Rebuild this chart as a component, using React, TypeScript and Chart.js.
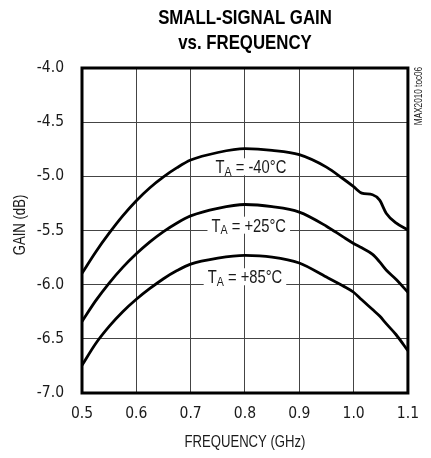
import { useEffect, useRef } from "react";
import { Chart, registerables } from "chart.js";

Chart.register(...registerables);

// ---- data ----
const freqGHz = [0.5, 0.525, 0.55, 0.575, 0.6, 0.625, 0.65, 0.675, 0.7, 0.75, 0.8, 0.85, 0.9, 0.95, 0.98, 1.0, 1.015, 1.035, 1.048, 1.06, 1.078, 1.1];
const gainM40 = [-5.895, -5.7, -5.525, -5.365, -5.225, -5.105, -5.005, -4.92, -4.85, -4.78, -4.745, -4.76, -4.8, -4.915, -5.02, -5.095, -5.155, -5.17, -5.22, -5.34, -5.43, -5.495];
const gainP25 = [-6.34, -6.15, -5.985, -5.84, -5.715, -5.605, -5.51, -5.43, -5.365, -5.295, -5.26, -5.28, -5.33, -5.46, -5.557, -5.62, -5.66, -5.72, -5.79, -5.865, -5.95, -6.07];
const gainP85 = [-6.745, -6.545, -6.385, -6.25, -6.135, -6.035, -5.945, -5.87, -5.81, -5.755, -5.73, -5.745, -5.8, -5.93, -6.01, -6.07, -6.14, -6.23, -6.29, -6.36, -6.46, -6.61];

const xTickValues = [0.5, 0.6, 0.7, 0.8, 0.9, 1.0, 1.1];
const xTickLabels = ["0.5", "0.6", "0.7", "0.8", "0.9", "1.0", "1.1"];
const yTickValues = [-7.0, -6.5, -6.0, -5.5, -5.0, -4.5, -4.0];
const yTickLabels = ["-7.0", "-6.5", "-6.0", "-5.5", "-5.0", "-4.5", "-4.0"];

const seriesTemps = ["-40°C", "+25°C", "+85°C"];
// label anchors in data units (centre frequency, baseline gain)
const labelFreq = [0.811, 0.807, 0.8];
const labelGain = [-4.972, -5.511, -5.987];

const titleLines = ["SMALL-SIGNAL GAIN", "vs. FREQUENCY"];
const xTitle = "FREQUENCY (GHz)";
const yTitle = "GAIN (dB)";
const sideNote = "MAX2010 toc06";

const NARROW = "'Liberation Sans', Arial, sans-serif";
const TICK_FONT = "'DejaVu Sans Condensed', 'Liberation Sans Narrow', 'Liberation Sans', sans-serif";
const SX = 0.82;
const TEXT = "#1a1a1a";

function narrowText(
  ctx: CanvasRenderingContext2D,
  text: string,
  x: number,
  y: number,
  font: string,
  align: CanvasTextAlign = "center",
  baseline: CanvasTextBaseline = "alphabetic",
  rot = 0
) {
  ctx.save();
  ctx.translate(x, y);
  if (rot) ctx.rotate(rot);
  ctx.scale(SX, 1);
  ctx.font = font;
  ctx.textAlign = align;
  ctx.textBaseline = baseline;
  ctx.fillText(text, 0, 0);
  ctx.restore();
}

export default function App() {
  const ref = useRef<HTMLCanvasElement | null>(null);

  useEffect(() => {
    document.body.style.margin = "0";
    const canvas = ref.current;
    if (!canvas) return;

    const overlay = {
      id: "overlay",
      afterDatasetsDraw(chart: any) {
        const ctx = chart.ctx as CanvasRenderingContext2D;
        const xs = chart.scales.x;
        const ys = chart.scales.y;
        ctx.save();
        seriesTemps.forEach((t, i) => {
          const cx = xs.getPixelForValue(labelFreq[i]);
          const by = ys.getPixelForValue(labelGain[i]);
          const mainFont = `18px ${NARROW}`;
          const subFont = `13px ${NARROW}`;
          const rest = " = " + t;
          ctx.font = mainFont;
          const wT = ctx.measureText("T").width * SX;
          const wR = ctx.measureText(rest).width * SX;
          ctx.font = subFont;
          const wA = ctx.measureText("A").width * SX;
          const total = wT + wA + wR;
          const x0 = cx - total / 2;
          ctx.fillStyle = "#fff";
          ctx.fillRect(x0 - 4, by - 15, total + 8, 17);
          ctx.fillStyle = TEXT;
          narrowText(ctx, "T", x0, by, mainFont, "left");
          narrowText(ctx, "A", x0 + wT, by + 2.7, subFont, "left");
          narrowText(ctx, rest, x0 + wT + wA, by, mainFont, "left");
        });
        ctx.restore();
      },
      afterDraw(chart: any) {
        const ctx = chart.ctx as CanvasRenderingContext2D;
        const a = chart.chartArea;
        ctx.save();
        ctx.strokeStyle = "#000";
        ctx.lineWidth = 3;
        ctx.strokeRect(a.left, a.top, a.right - a.left, a.bottom - a.top);
        ctx.fillStyle = "#000";
        narrowText(ctx, titleLines[0], 245, 23.5, `bold 20.5px ${NARROW}`);
        narrowText(ctx, titleLines[1], 245, 49, `bold 20.5px ${NARROW}`);
        ctx.fillStyle = TEXT;
        narrowText(ctx, xTitle, (a.left + a.right) / 2, 447, `16px ${NARROW}`);
        narrowText(ctx, yTitle, 21, 225, `16px ${NARROW}`, "center", "middle", -Math.PI / 2);
        narrowText(ctx, sideNote, 419, 96, `10px ${NARROW}`, "center", "middle", -Math.PI / 2);
        ctx.restore();
      },
    };

    const mk = (vals: number[]) => ({
      data: freqGHz.map((f, i) => ({ x: f, y: vals[i] })),
      borderColor: "#000",
      borderWidth: 2.8,
      pointRadius: 0,
      fill: false,
      cubicInterpolationMode: "monotone" as const,
    });

    const chart = new Chart(canvas, {
      type: "line",
      data: { datasets: [mk(gainM40), mk(gainP25), mk(gainP85)] },
      options: {
        responsive: false,
        animation: false,
        layout: { padding: { top: 68, right: 22.5, left: 0, bottom: 0 } },
        plugins: {
          legend: { display: false },
          tooltip: { enabled: false },
          title: { display: false },
        },
        scales: {
          x: {
            type: "linear",
            min: 0.5,
            max: 1.1,
            afterBuildTicks: (s: any) => {
              s.ticks = xTickValues.map((v) => ({ value: v }));
            },
            afterFit: (s: any) => {
              s.height = 65;
            },
            grid: { color: "#444", lineWidth: 1, drawTicks: false },
            border: { display: false },
            ticks: {
              padding: 12,
              color: TEXT,
              font: { family: TICK_FONT, size: 15.5 },
              maxRotation: 0,
              autoSkip: false,
              callback: (_v: any, i: number) => xTickLabels[i],
            },
          },
          y: {
            type: "linear",
            min: -7,
            max: -4,
            afterBuildTicks: (s: any) => {
              s.ticks = yTickValues.map((v) => ({ value: v }));
            },
            afterFit: (s: any) => {
              s.width = 82;
            },
            grid: { color: "#444", lineWidth: 1, drawTicks: false },
            border: { display: false },
            ticks: {
              padding: 18,
              color: TEXT,
              font: { family: TICK_FONT, size: 15.5 },
              autoSkip: false,
              callback: (_v: any, i: number) => yTickLabels[i],
            },
          },
        },
      },
      plugins: [overlay],
    });

    return () => chart.destroy();
  }, []);

  return (
    <div style={{ position: "absolute", left: 0, top: 0, width: 431, height: 458, background: "#fff" }}>
      <canvas ref={ref} width={431} height={458} style={{ display: "block", width: 431, height: 458 }} />
    </div>
  );
}
